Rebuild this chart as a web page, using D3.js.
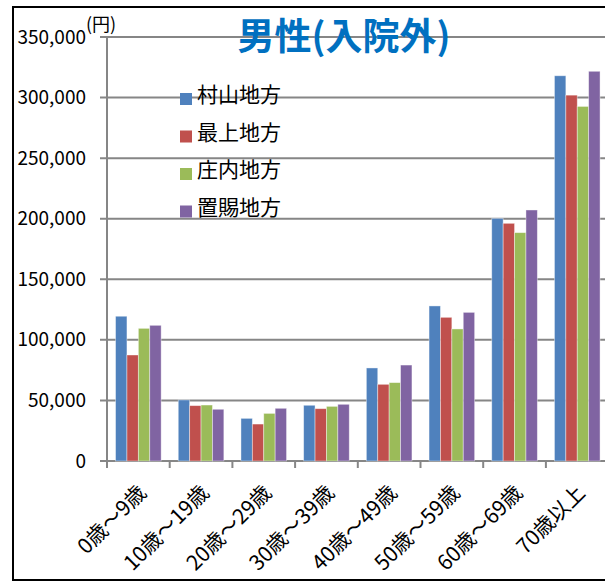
<!DOCTYPE html>
<html>
<head>
<meta charset="utf-8">
<script src="https://cdn.jsdelivr.net/npm/d3@7"></script>
<style>
  body { margin: 0; background: #fff; }
  text { font-family: "Noto Sans CJK JP", "Noto Sans", sans-serif; }
</style>
</head>
<body>
<div id="chart"></div>
<script>
// categories and series
var ageGroups = ["0歳～9歳", "10歳～19歳", "20歳～29歳", "30歳～39歳", "40歳～49歳", "50歳～59歳", "60歳～69歳", "70歳以上"];
var regions = ["村山地方", "最上地方", "庄内地方", "置賜地方"];
var murayama = [119500, 50400, 35200, 46000, 76800, 128000, 200300, 318000];
var mogami   = [87500, 45700, 30500, 43200, 63300, 118600, 196200, 302000];
var shonai   = [109500, 46200, 39300, 45100, 64700, 109000, 188500, 292700];
var okitama  = [112000, 42700, 43500, 46800, 79200, 122700, 207200, 321700];
var yTicks = [0, 50000, 100000, 150000, 200000, 250000, 300000, 350000];
var colors = ["#4F81BD", "#C0504D", "#9BBB59", "#8064A2"];

var seriesValues = [murayama, mogami, shonai, okitama];

var svgWidth = 605, svgHeight = 583;
var margin = { left: 107, top: 37 };
var height = 424;
var width = 8 * 62.7;

var svg = d3.select("#chart").append("svg")
    .attr("width", svgWidth)
    .attr("height", svgHeight);

// outer frame
svg.append("rect")
    .attr("x", 13).attr("y", 7)
    .attr("width", 640).attr("height", 573)
    .attr("fill", "none")
    .attr("stroke", "#000")
    .attr("stroke-width", 2);

var chartGroup = svg.append("g")
    .attr("transform", `translate(${margin.left}, ${margin.top})`);

var x0 = d3.scaleBand().domain(ageGroups).range([0, width]).paddingInner(0).paddingOuter(0);
var x1 = d3.scaleBand().domain(regions).range([0, x0.bandwidth()]).paddingInner(0).paddingOuter(0.75);
var y = d3.scaleLinear().domain([0, 350000]).range([height, 0]);

// gridlines
chartGroup.selectAll(".grid")
    .data(yTicks)
    .enter().append("line")
    .attr("x1", -7).attr("x2", width)
    .attr("y1", d => y(d)).attr("y2", d => y(d))
    .attr("stroke", "#868686")
    .attr("stroke-width", 2);

// bars
var rows = ageGroups.map(function(a, i) {
  return { age: a, vals: regions.map(function(r, j) { return { region: r, value: seriesValues[j][i], idx: j }; }) };
});

var groups = chartGroup.selectAll(".grp")
    .data(rows)
    .enter().append("g")
    .attr("transform", d => `translate(${x0(d.age)}, 0)`);

groups.selectAll("rect")
    .data(d => d.vals)
    .enter().append("rect")
    .attr("x", d => x1(d.region))
    .attr("y", d => y(d.value))
    .attr("width", x1.bandwidth())
    .attr("height", d => height - y(d.value))
    .attr("fill", d => colors[d.idx])
    .attr("stroke", "rgba(255,255,255,0.5)")
    .attr("stroke-width", 0.8);

// y axis
var leftAxis = d3.axisLeft(y).tickValues(yTicks).tickSize(0).tickPadding(21)
    .tickFormat(d3.format(","));
var yAxisG = chartGroup.append("g").call(leftAxis);
yAxisG.select(".domain").remove();
yAxisG.selectAll("text")
    .attr("fill", "#000")
    .style("font-size", "19px");

chartGroup.append("line")
    .attr("x1", 0).attr("x2", 0).attr("y1", 0).attr("y2", height)
    .attr("stroke", "#868686").attr("stroke-width", 2);

// x axis
chartGroup.selectAll(".xtick")
    .data(d3.range(ageGroups.length + 1))
    .enter().append("line")
    .attr("x1", d => d * x0.step()).attr("x2", d => d * x0.step())
    .attr("y1", height).attr("y2", height + 7)
    .attr("stroke", "#868686").attr("stroke-width", 2);

chartGroup.selectAll(".xlabel")
    .data(ageGroups)
    .enter().append("text")
    .attr("transform", d => `translate(${x0(d) + x0.bandwidth() / 2 + 4}, ${height + 28}) rotate(-45)`)
    .attr("text-anchor", "end")
    .attr("dy", "0.35em")
    .style("font-size", "21px")
    .text(d => d);

// legend
var legend = svg.selectAll(".legend")
    .data(regions)
    .enter().append("g")
    .attr("transform", (d, i) => `translate(180, ${99 + i * 37.5})`);

legend.append("rect")
    .attr("x", 0).attr("y", -6)
    .attr("width", 12).attr("height", 12)
    .attr("fill", (d, i) => colors[i]);

legend.append("text")
    .attr("x", 17).attr("y", -4).attr("dy", "0.35em")
    .style("font-size", "21px")
    .text(d => d);

// title and unit
svg.append("text")
    .attr("x", 344).attr("y", 50)
    .attr("text-anchor", "middle")
    .attr("fill", "#0070C0")
    .style("font-size", "37px")
    .style("font-weight", "bold")
    .text("男性(入院外)");

svg.append("text")
    .attr("x", 86).attr("y", 31)
    .style("font-size", "18px")
    .text("(円)");
</script>
</body>
</html>
